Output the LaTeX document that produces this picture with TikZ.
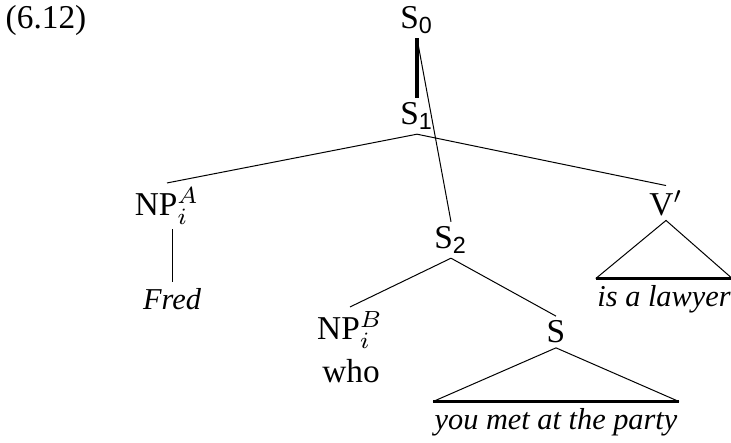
\documentclass[tikz,border=0pt]{standalone}
\usepackage{fontspec}
\setmainfont{Liberation Serif}
\newfontfamily\subsf{Liberation Sans}
\begin{document}
\begin{tikzpicture}[
  x=0.3pt,y=-0.3pt,
  font=\fontsize{10}{12}\selectfont,
  cat/.style={inner sep=1.2pt},
  word/.style={inner xsep=0.3pt,inner ysep=1.8pt,font=\fontsize{9.1}{11}\selectfont\itshape},
  edge/.style={draw=black,line width=0.3pt},
  spine/.style={draw=black,line width=1.1pt},
  roofbase/.style={draw=black,line width=0.65pt}
]
  \useasboundingbox (0,0) rectangle (731,443);

  \node[cat] (ex) at (46,20) {(6.12)};

  \node[cat] (s0) at (417,20) {S\textsubscript{\subsf 0}};
  \node[cat] (s1) at (417,116) {S\textsubscript{\subsf 1}};
  \node[cat] (npa) at (167,206) {NP$^{A}_{i}$};
  \node[word] (fred) at (172,299) {Fred};
  \node[cat] (vbar) at (666,203) {V$'$};
  \node[word] (lawyer) at (664,299) {is a lawyer};
  \node[cat] (s2) at (451,240) {S\textsubscript{\subsf 2}};
  \node[cat] (npb) at (350,330) {NP$^{B}_{i}$};
  \node[cat] (who) at (351,371) {who};
  \node[cat] (s) at (556,332) {S};
  \node[word] (party) at (556,422) {you met at the party};

  % spine and extraposition line
  \draw[spine] (s0.south) -- (s1.north);
  \draw[edge] (s0.south) -- (s2.north);

  \draw[edge] (s1.south) -- (npa.north);
  \draw[edge] (s1.south) -- (vbar.north);
  \draw[edge] (fred.north |- npa.south) -- (fred.north);
  \draw[edge] (s2.south) -- (npb.north);
  \draw[edge] (s2.south) -- (s.north);

  % roofs
  \draw[edge] (lawyer.north west) -- (vbar.south) -- (lawyer.north east);
  \draw[roofbase] (lawyer.north west) -- (lawyer.north east);
  \draw[edge] (party.north west) -- (s.south) -- (party.north east);
  \draw[roofbase] (party.north west) -- (party.north east);
\end{tikzpicture}
\end{document}
